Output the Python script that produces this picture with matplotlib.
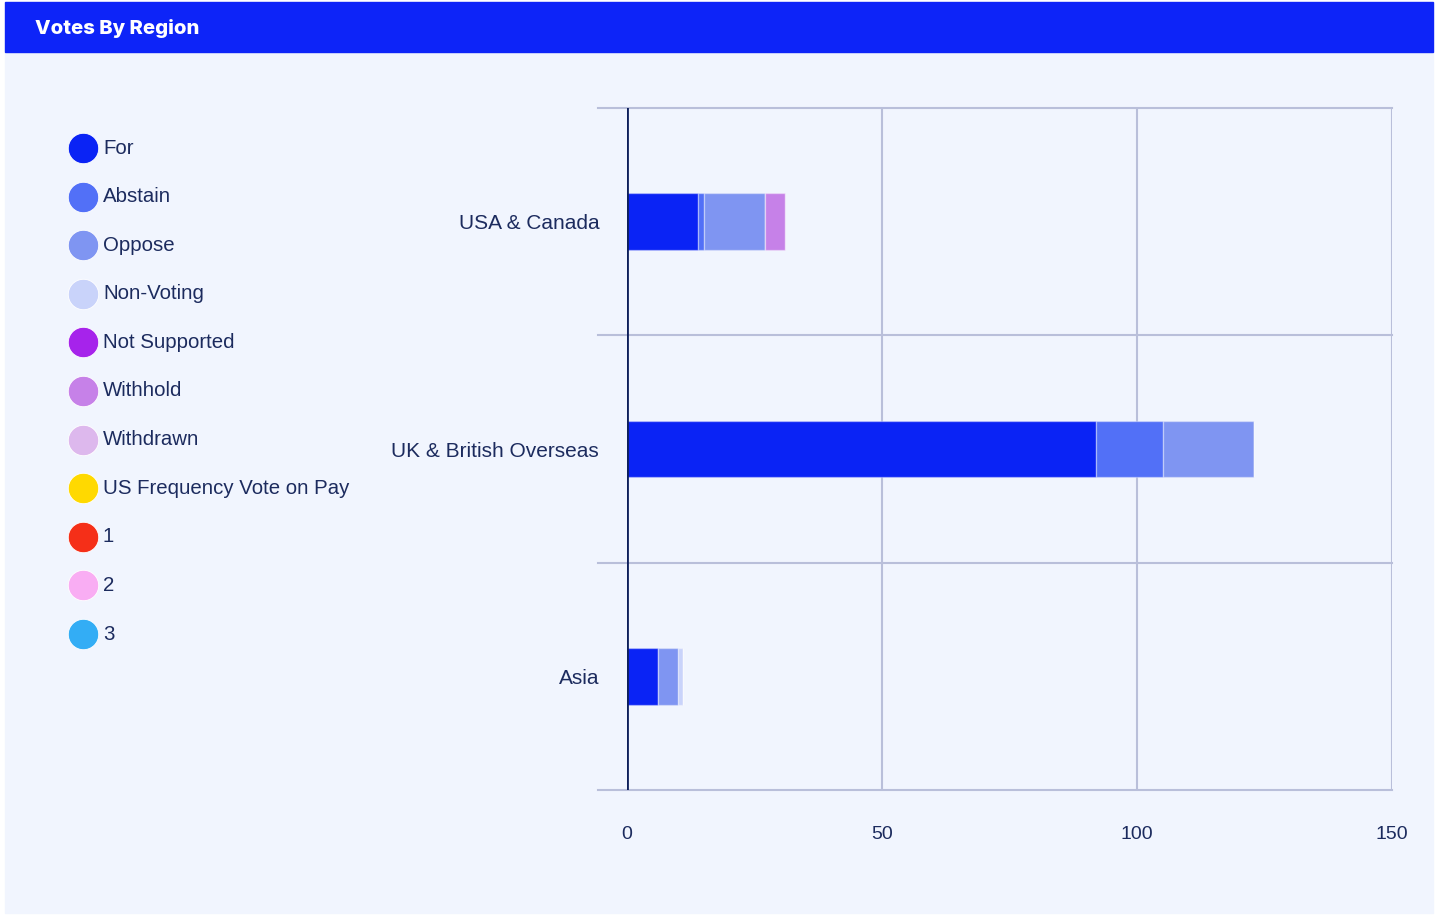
import numpy as np
import matplotlib
matplotlib.use("Agg")
import matplotlib.pyplot as plt
from matplotlib.patches import Rectangle
from matplotlib.lines import Line2D

# data
regions = ["USA & Canada", "UK & British Overseas", "Asia"]
series_names = ["For", "Abstain", "Oppose", "Non-Voting", "Not Supported",
                "Withhold", "Withdrawn", "US Frequency Vote on Pay", "1", "2", "3"]
series_colors = ["#0A23F5", "#5270F7", "#7F95F2", "#C9D3FA", "#A623EB",
                 "#C681E8", "#DDB8ED", "#FFD900", "#F52F18", "#F9ADF3", "#33ADF5"]
votes_for = [14, 92, 6]
votes_abstain = [1, 13, 0]
votes_oppose = [12, 18, 4]
votes_non_voting = [0, 0, 1]
votes_not_supported = [0, 0, 0]
votes_withhold = [4, 0, 0]
votes_withdrawn = [0, 0, 0]
x_ticks = [0, 50, 100, 150]

series_values = [votes_for, votes_abstain, votes_oppose, votes_non_voting,
                 votes_not_supported, votes_withhold, votes_withdrawn]

text_color = "#1C2B5E"
grid_color = "#B9BFDA"
panel_color = "#F1F5FE"
font = "Liberation Sans"

W, H = 1438, 915
fig = plt.figure(figsize=(W / 100, H / 100), dpi=100, facecolor="white")

# background layer in pixel coordinates
bg = fig.add_axes([0, 0, 1, 1])
bg.set_xlim(0, W)
bg.set_ylim(H, 0)
bg.axis("off")
bg.add_patch(Rectangle((5, 52), 1428, 861, color=panel_color, zorder=0))
bg.add_patch(Rectangle((5, 2), 1428, 50, color="#0D24F8", zorder=1))
bg.text(35, 28, "Votes By Region", color="white", fontsize=14.6, fontweight="heavy",
        family="Inter", va="center", ha="left", zorder=2)

# legend
for i, (name, col) in enumerate(zip(series_names, series_colors)):
    y = 148 + i * 48.6
    bg.scatter([83], [y], s=480, color=col, edgecolors="white", linewidths=0.6, zorder=3)
    bg.text(103, y, name, color=text_color, fontsize=14.7, family=font,
            va="center", ha="left", zorder=3)

# chart
ax = fig.add_axes([627 / W, 1 - 790 / H, (1392 - 627) / W, (790 - 108) / H])
ax.set_facecolor("none")
y = np.arange(len(regions))
left = np.zeros(len(regions))
for vals, col in zip(series_values, series_colors):
    vals = np.array(vals, dtype=float)
    ax.barh(y, vals, left=left, height=0.25, color=col,
            edgecolor=(1, 1, 1, 0.35), linewidth=1, zorder=3)
    left += vals

ax.set_xlim(0, 150)
ax.set_ylim(2.5, -0.5)
for s in ax.spines.values():
    s.set_visible(False)

for xv in x_ticks[1:]:
    ax.axvline(xv, color=grid_color, lw=1.5, zorder=1)
ax.axvline(0, color="#0E1F5B", lw=2, zorder=4)
for yv in np.arange(-0.5, len(regions), 1.0):
    ax.add_line(Line2D([-0.038, 1.0], [yv, yv], transform=ax.get_yaxis_transform(),
                       color=grid_color, lw=1.5, clip_on=False, zorder=1))

ax.set_xticks(x_ticks)
ax.set_xticklabels([str(t) for t in x_ticks], fontsize=14, color=text_color, family=font)
ax.set_yticks(y)
ax.set_yticklabels(regions, fontsize=15, color=text_color, family=font)
ax.tick_params(axis="x", length=0, pad=26)
ax.tick_params(axis="y", length=0, pad=20)

fig.savefig("out.png", dpi=100, facecolor="white")
